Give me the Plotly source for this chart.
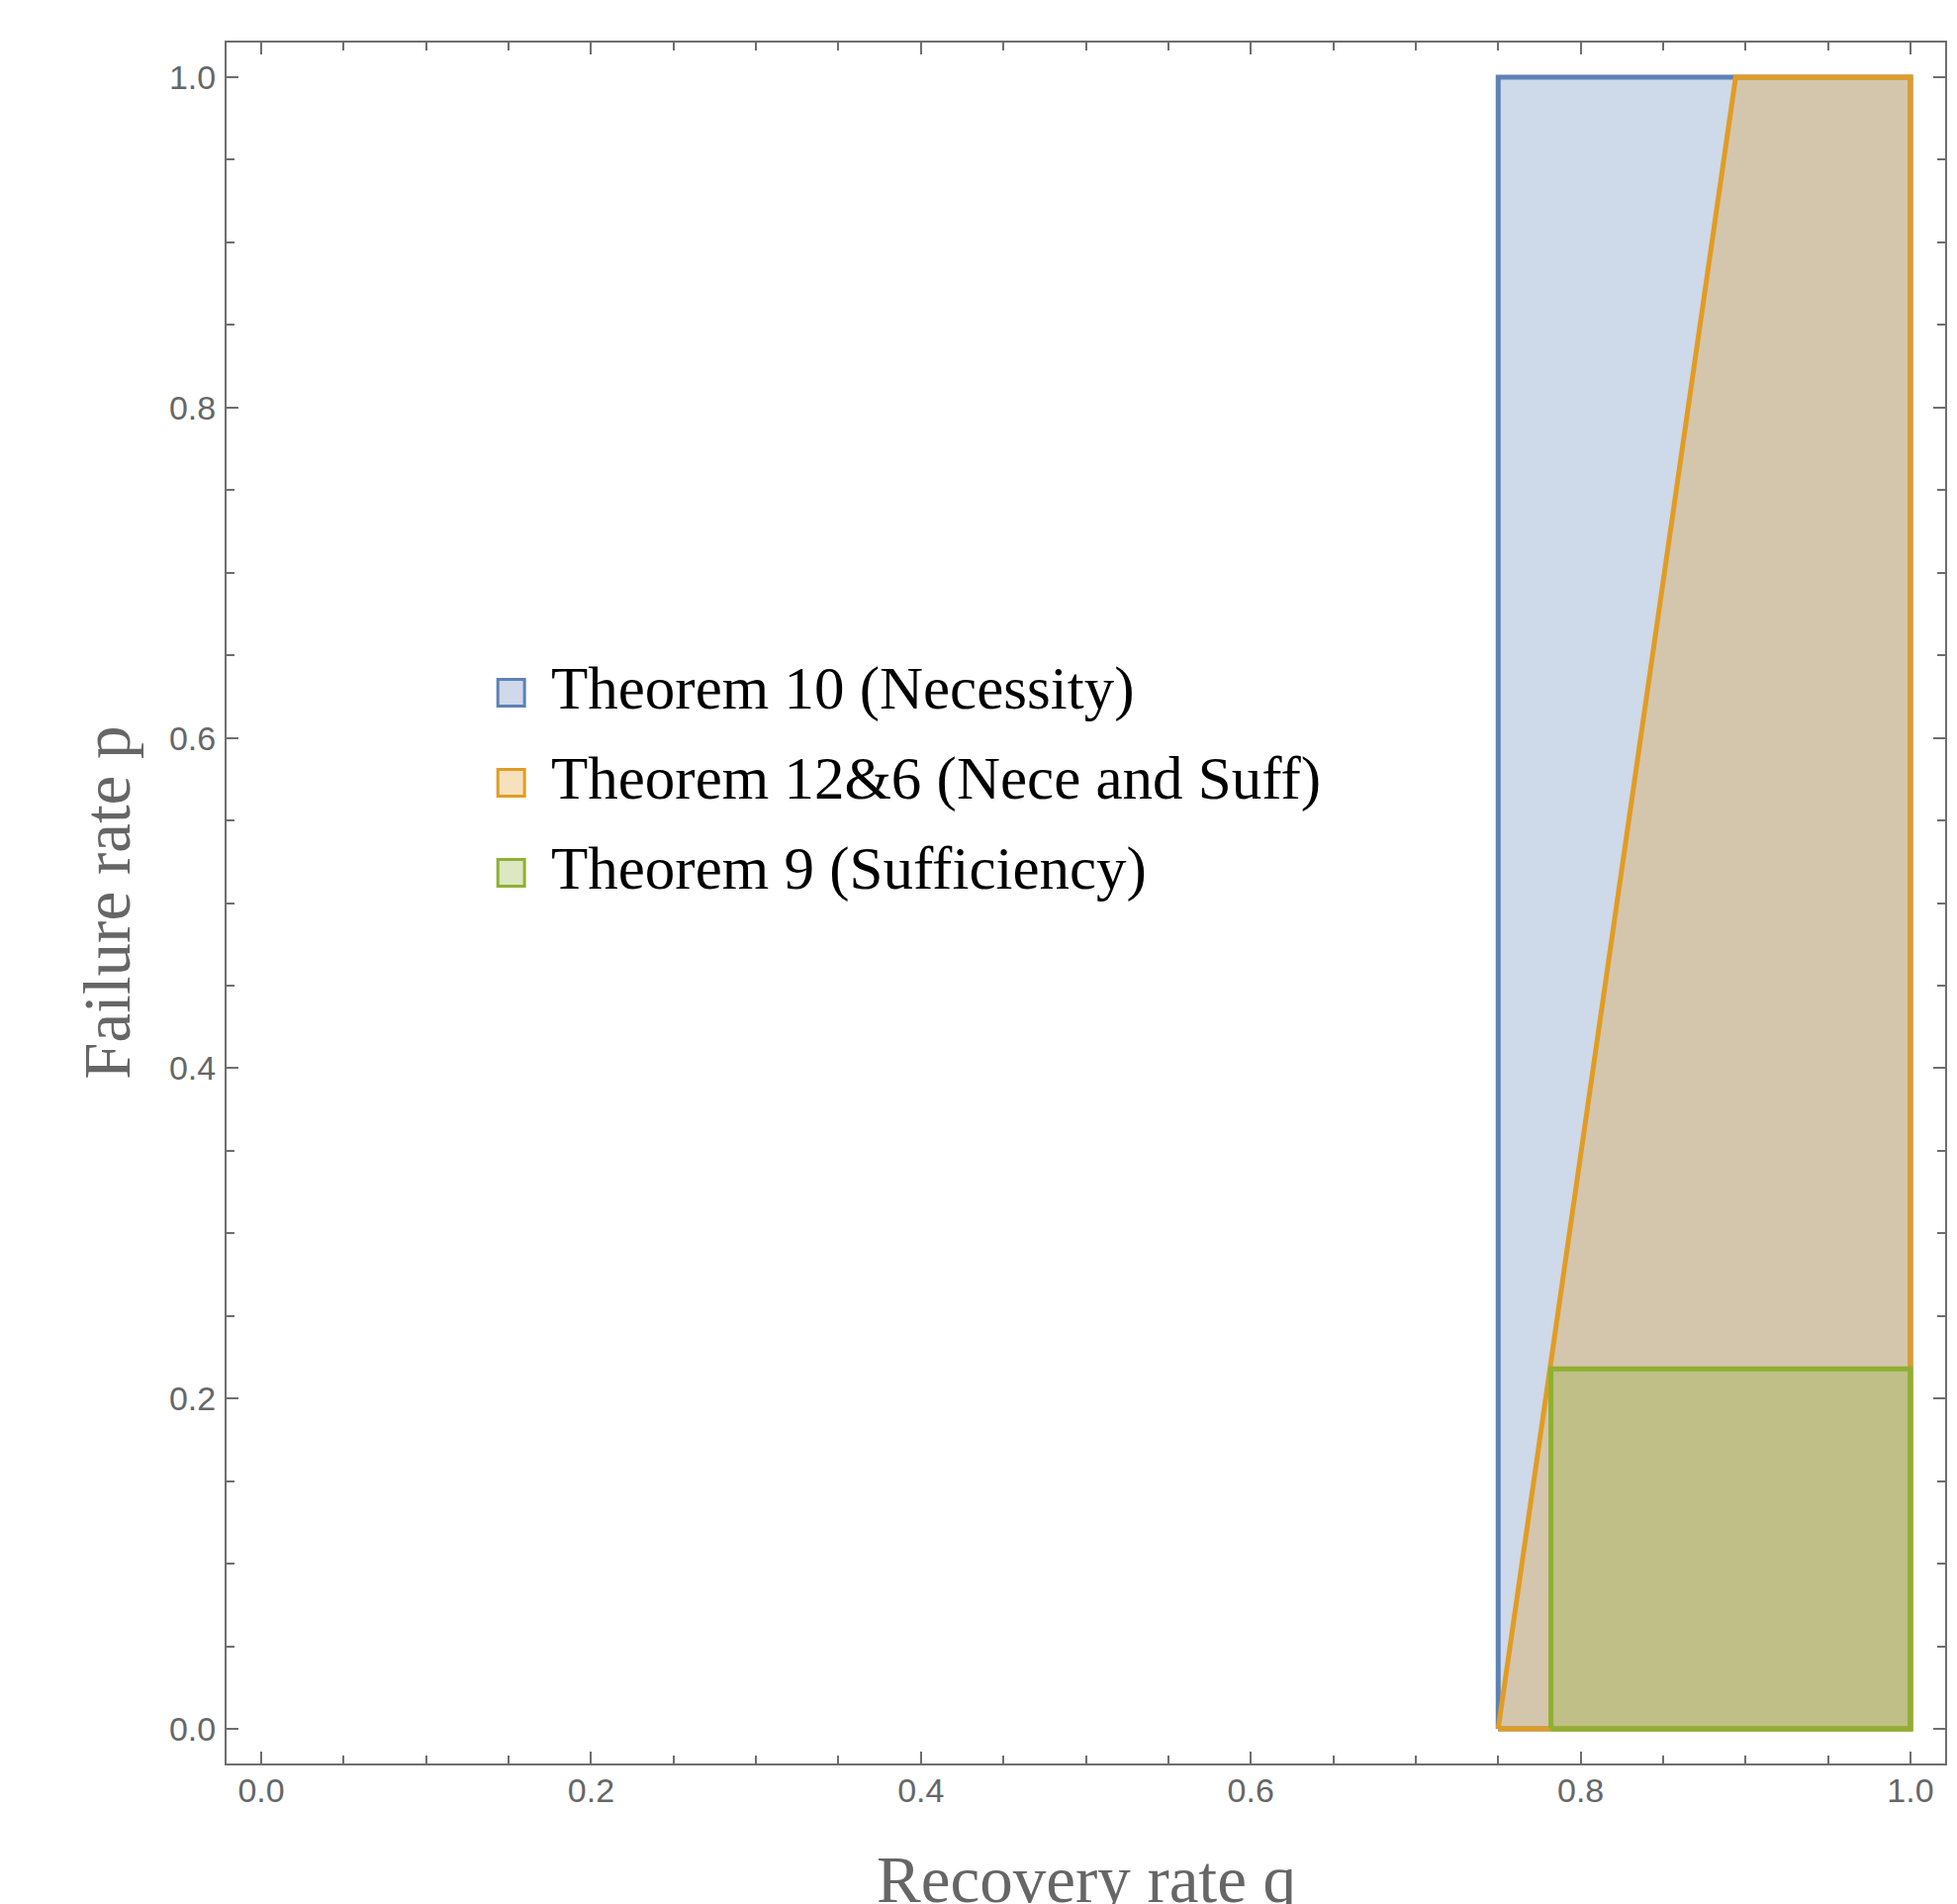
import plotly.graph_objects as go

# ---- data ----
series_names = ["Theorem 10 (Necessity)", "Theorem 12&6 (Nece and Suff)", "Theorem 9 (Sufficiency)"]
edge_colors = ["#5E81B5", "#E19C24", "#8FB032"]

nec_q = [0.75, 1.0, 1.0, 0.75]
nec_p = [0.0, 0.0, 1.0, 1.0]

ns_q = [0.75, 1.0, 1.0, 0.894]
ns_p = [0.0, 0.0, 1.0, 1.0]

suf_q = [0.782, 1.0, 1.0, 0.782]
suf_p = [0.0, 0.0, 0.218, 0.218]

x_ticks = [0.0, 0.2, 0.4, 0.6, 0.8, 1.0]
y_ticks = [0.0, 0.2, 0.4, 0.6, 0.8, 1.0]

# ---- layout geometry (page pixels; the page body adds an 8px offset) ----
OFF = 8
W, H = 1978 - OFF, 1924 - OFF
PLOT_L, PLOT_R, PLOT_T, PLOT_B = 229, 1968, 43, 1782
L = PLOT_L - OFF
T = PLOT_T - OFF
R = W - (PLOT_R - OFF)
B = H - (PLOT_B - OFF)
PW, PH = PLOT_R - PLOT_L, PLOT_B - PLOT_T


def px_x(px):
    return (px - PLOT_L) / PW


def px_y(py):
    return (PLOT_B - py) / PH


def rgba(hexc, a):
    h = hexc.lstrip("#")
    r, g, b = int(h[0:2], 16), int(h[2:4], 16), int(h[4:6], 16)
    return f"rgba({r},{g},{b},{a})"


def light(hexc, a):
    h = hexc.lstrip("#")
    r, g, b = int(h[0:2], 16), int(h[2:4], 16), int(h[4:6], 16)
    return f"rgb({round(255*(1-a)+r*a)},{round(255*(1-a)+g*a)},{round(255*(1-a)+b*a)})"


fig = go.Figure()
for name, qs, ps, col in zip(series_names, [nec_q, ns_q, suf_q], [nec_p, ns_p, suf_p], edge_colors):
    fig.add_trace(go.Scatter(
        x=list(qs) + [qs[0]], y=list(ps) + [ps[0]],
        mode="lines", fill="toself", name=name, showlegend=False,
        line=dict(color=col, width=5),
        fillcolor=rgba(col, 0.3), hoverinfo="skip",
    ))

axis_col = "#6e6e6e"
tick_font = dict(family="Liberation Sans, Arial", size=34, color="#666666")
common = dict(
    showgrid=False, zeroline=False, showline=True, linecolor=axis_col, linewidth=2,
    mirror="allticks", ticks="inside", ticklen=12, tickwidth=1.8, tickcolor=axis_col,
    tickformat=".1f", tickfont=tick_font,
    minor=dict(ticks="inside", ticklen=8, tickwidth=1.6, tickcolor=axis_col, dtick=0.05, showgrid=False),
)
fig.update_xaxes(range=[-0.021, 1.021], tickvals=x_ticks, ticklabelstandoff=-4, **common)
fig.update_yaxes(range=[-0.021, 1.021], tickvals=y_ticks, ticklabelstandoff=2, **common)

shapes = []
annotations = []
row_centers = [700, 791, 882]
for name, col, yc in zip(series_names, edge_colors, row_centers):
    shapes.append(dict(
        type="rect", xref="paper", yref="paper",
        x0=px_x(503.5), x1=px_x(530.5), y0=px_y(yc + 13.5), y1=px_y(yc - 13.5),
        line=dict(color=col, width=3), fillcolor=light(col, 0.3), layer="above",
    ))
    annotations.append(dict(
        xref="paper", yref="paper", x=px_x(555), y=px_y(yc - 4), xanchor="left", yanchor="middle",
        text=name, showarrow=False,
        font=dict(family="Liberation Serif, Times New Roman", size=61, color="black"),
    ))

title_font = dict(family="Liberation Serif, Times New Roman", size=67, color="#666666")
annotations.append(dict(
    xref="paper", yref="paper", x=0.5, y=px_y(1899), xanchor="center", yanchor="middle",
    text="Recovery rate q", showarrow=False, font=title_font,
))
annotations.append(dict(
    xref="paper", yref="paper", x=px_x(107), y=0.5, xanchor="center", yanchor="middle",
    text="Failure rate p", textangle=-90, showarrow=False, font=title_font,
))

fig.update_layout(
    width=W, height=H, margin=dict(l=L, r=R, t=T, b=B),
    paper_bgcolor="white", plot_bgcolor="white",
    shapes=shapes, annotations=annotations, showlegend=False,
)

fig.write_html("out.html")
